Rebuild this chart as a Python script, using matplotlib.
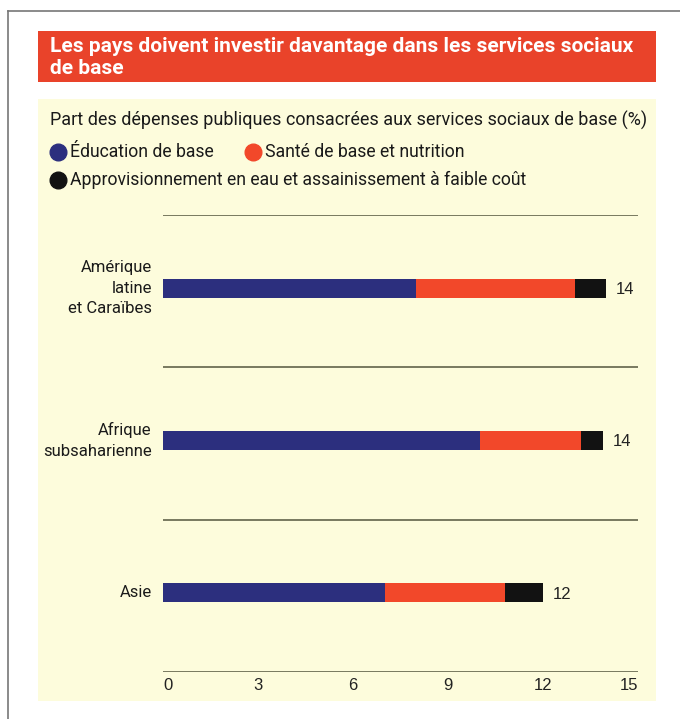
import matplotlib
matplotlib.use("Agg")
import matplotlib.pyplot as plt
from matplotlib.patches import Rectangle
from matplotlib.lines import Line2D


regions = ["Amérique\nlatine\net Caraïbes", "Afrique\nsubsaharienne", "Asie"]
education = [8.0, 10.0, 7.0]
sante = [5.0, 3.2, 3.8]
eau = [1.0, 0.7, 1.2]
series_names = ["Éducation de base", "Santé de base et nutrition",
                "Approvisionnement en eau et assainissement à faible coût"]
ticks = [0, 3, 6, 9, 12, 15]

col_edu = "#2c2f7e"
col_sante = "#f2482a"
col_eau = "#121212"
panel = "#fdfcdc"
title_red = "#e9432a"
rule = "#6e6f55"

W, H = 680, 719
narrow = "Roboto"


def fx(x):
    return x / W


def fy(y):
    return 1 - y / H


fig = plt.figure(figsize=(W / 100, H / 100), dpi=100)
fig.patch.set_facecolor("white")

# frame: top and left rules
fig.add_artist(Line2D([fx(8), fx(680)], [fy(11), fy(11)], color="#777777", lw=1.2))
fig.add_artist(Line2D([fx(8), fx(8)], [fy(11), fy(719)], color="#777777", lw=1.2))

# red title band
fig.add_artist(Rectangle((fx(38), fy(82)), fx(656) - fx(38), fy(31) - fy(82),
                         transform=fig.transFigure, color=title_red, lw=0, zorder=-2))
fig.text(fx(50), fy(47), "Les pays doivent investir davantage dans les services sociaux",
         color="white", fontsize=15, fontweight="bold", family=narrow, va="center")
fig.text(fx(50), fy(68), "de base",
         color="white", fontsize=15, fontweight="bold", family=narrow, va="center")

# yellow panel
fig.add_artist(Rectangle((fx(38), fy(701)), fx(656) - fx(38), fy(99) - fy(701),
                         transform=fig.transFigure, color=panel, lw=0, zorder=-2))

fig.text(fx(50), fy(120), "Part des dépenses publiques consacrées aux services sociaux de base (%)",
         fontsize=13, family=narrow, color="#1a1a1a", va="center")

# legend
legend_items = [(58, 152, col_edu, series_names[0]),
                (253, 152, col_sante, series_names[1]),
                (58, 180, col_eau, series_names[2])]
for x, y, c, name in legend_items:
    fig.add_artist(Line2D([fx(x)], [fy(y)], marker="o", markersize=12,
                          color=c, transform=fig.transFigure))
    fig.text(fx(x + 12), fy(y), name, fontsize=12.7, family=narrow,
             color="#1a1a1a", va="center")

# bar area
ax = fig.add_axes([fx(163), fy(672), fx(638) - fx(163), fy(215) - fy(672)])
ax.set_zorder(2)
ax.set_facecolor("none")
pos = [p - 0.02 for p in range(len(regions))]
h = 0.125
ax.barh(pos, education, height=h, color=col_edu)
left2 = education
ax.barh(pos, sante, left=left2, height=h, color=col_sante)
left3 = [a + b for a, b in zip(education, sante)]
ax.barh(pos, eau, left=left3, height=h, color=col_eau)

totals = [a + b + c for a, b, c in zip(education, sante, eau)]
for p, t in zip(pos, totals):
    ax.text(t + 0.3, p + 0.01, f"{round(t)}", va="center", ha="left",
            fontsize=12, family="Liberation Sans", color="#222222")

for p, name in zip(pos, regions):
    ax.text(-0.35, p, name, va="center", ha="right", fontsize=12,
            family=narrow, color="#1a1a1a", linespacing=1.45)

for y in [-0.5, 0.5, 1.5, 2.5]:
    ax.axhline(y, color=rule, lw=1.3)

ax.set_xlim(0, 15)
ax.set_ylim(2.5, -0.5)
ax.set_xticks([])
ax.set_yticks([])
for s in ax.spines.values():
    s.set_visible(False)

for t in ticks:
    ha = "center"
    if t == ticks[0]:
        ha = "left"
    elif t == ticks[-1]:
        ha = "right"
    ax.text(t, 2.5 + 0.09, str(t), ha=ha, va="center", fontsize=12,
            family="Liberation Sans", color="#222222")

fig.savefig("out.png", dpi=100)
plt.close(fig)
